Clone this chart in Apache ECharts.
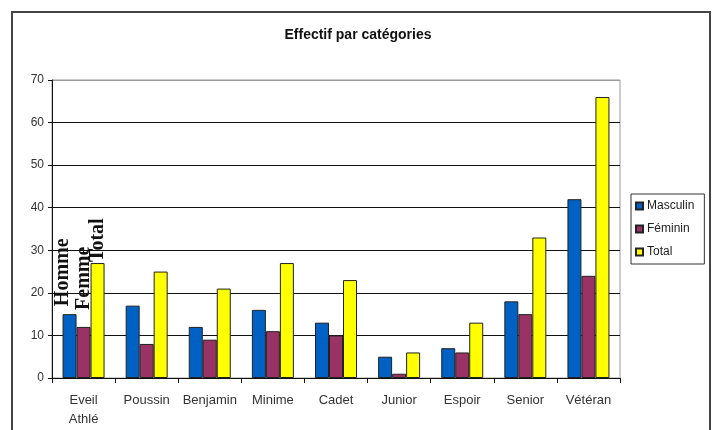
<!DOCTYPE html>
<html>
<head>
<meta charset="utf-8">
<script src="https://cdn.jsdelivr.net/npm/echarts@6/dist/echarts.min.js"></script>
<style>
  html, body { margin: 0; padding: 0; background: #fff; }
  #chart { width: 716px; height: 430px; }
</style>
</head>
<body>
<div id="chart"></div>
<script>
const categories = ['Eveil\nAthlé', 'Poussin', 'Benjamin', 'Minime', 'Cadet', 'Junior', 'Espoir', 'Senior', 'Vétéran']
const masculin = [15, 17, 12, 16, 13, 5, 7, 18, 42]
const feminin = [12, 8, 9, 11, 10, 1, 6, 15, 24]
const total = [27, 25, 21, 27, 23, 6, 13, 33, 66]
const seriesNames = ['Masculin', 'Féminin', 'Total']
const annotations = ['Homme', 'Femme', 'Total']
const yTicks = [0, 10, 20, 30, 40, 50, 60, 70]

const colors = ['#0061c4', '#993366', '#ffff00']
const annotDistance = [8, 17, 1]
const annotOffset = [-7, 0, 0]

function withAnnotation(values, idx) {
  return values.map((v, i) => {
    if (i !== 0) return v
    return {
      value: v,
      label: {
        show: true,
        formatter: annotations[idx],
        position: 'top',
        rotate: 90,
        align: 'left',
        verticalAlign: 'middle',
        distance: annotDistance[idx],
        offset: [0, annotOffset[idx]],
        fontFamily: 'Liberation Serif, Times New Roman, serif',
        fontWeight: 'bold',
        fontSize: 20,
        color: '#111'
      }
    }
  })
}

const chart = echarts.init(document.getElementById('chart'))
const font = 'Liberation Sans, Arial, sans-serif'

const option = {
  animation: false,
  backgroundColor: '#fff',
  graphic: [{
    type: 'rect',
    shape: { x: 12, y: 12, width: 698, height: 440 },
    style: { fill: 'none', stroke: '#444', lineWidth: 2 },
    silent: true
  }],
  title: {
    text: 'Effectif par catégories',
    left: 'center',
    top: 23,
    textStyle: { fontFamily: font, fontSize: 14, fontWeight: 'bold', color: '#111' }
  },
  legend: {
    orient: 'vertical',
    left: 631,
    top: 194,
    itemWidth: 7,
    itemHeight: 7,
    itemGap: 11,
    icon: 'rect',
    borderColor: '#333',
    borderWidth: 1,
    padding: [6, 10, 6, 4],
    textStyle: { fontFamily: font, fontSize: 12, color: '#222', padding: [0, 0, 0, -1] },
    data: seriesNames
  },
  grid: {
    left: 52,
    right: 96,
    top: 80,
    bottom: 52,
    show: true,
    backgroundColor: '#fff',
    borderColor: '#999',
    borderWidth: 1
  },
  xAxis: {
    type: 'category',
    data: categories,
    axisLine: { lineStyle: { color: '#111' } },
    axisTick: { show: true, length: 5, lineStyle: { color: '#111' } },
    axisLabel: { fontFamily: font, fontSize: 13, color: '#333', margin: 13, lineHeight: 19, interval: 0 }
  },
  yAxis: {
    type: 'value',
    min: yTicks[0],
    max: yTicks[yTicks.length - 1],
    interval: 10,
    axisLine: { show: true, lineStyle: { color: '#111' } },
    axisTick: { show: true, length: 4, lineStyle: { color: '#111' } },
    axisLabel: { fontFamily: font, fontSize: 12, color: '#333', margin: 8 },
    splitLine: {
      show: true,
      lineStyle: { color: ['#111', '#111', '#111', '#111', '#111', '#111', '#111', '#999'] }
    }
  },
  series: [masculin, feminin, total].map((vals, k) => ({
    name: seriesNames[k],
    type: 'bar',
    data: withAnnotation(vals, k),
    barWidth: 14,
    barGap: '0%',
    itemStyle: { color: colors[k], borderColor: '#222', borderWidth: 1 }
  }))
}

chart.setOption(option)
</script>
</body>
</html>
